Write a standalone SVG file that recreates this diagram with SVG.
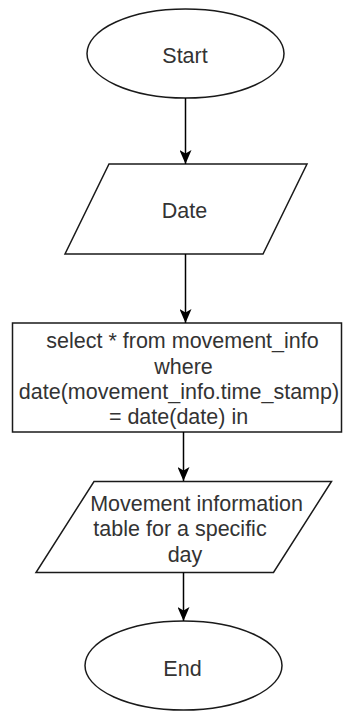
<svg xmlns="http://www.w3.org/2000/svg" width="343" height="712" viewBox="0 0 343 712">
<style>
.shape{fill:#fff;stroke:#1a1a1a;stroke-width:1.5}
.lbl{font-family:"Liberation Sans",Arial,sans-serif;font-size:21.5px;fill:#333;text-anchor:middle}
.edge{fill:none;stroke:#000;stroke-width:1.5}
</style>
<defs>
<marker id="arr" viewBox="0 0 14 12" refX="14" refY="6" markerWidth="14" markerHeight="12" markerUnits="userSpaceOnUse" orient="auto">
<path d="M0,0 L14,6 L0,12 L3.5,6 Z" fill="#000"/>
</marker>
</defs>
<rect width="343" height="712" fill="#fff"/>
<g id="start">
<ellipse class="shape" cx="185.5" cy="53.5" rx="98.5" ry="44.5"/>
<text class="lbl" x="185" y="62.5">Start</text>
</g>
<g id="date">
<polygon class="shape" points="109,164 307,164 263,254 65,254"/>
<text class="lbl" x="184.5" y="218">Date</text>
</g>
<g id="query">
<rect class="shape" x="12.5" y="323" width="329" height="109"/>
<text class="lbl" x="182.5" y="348">select * from movement_info</text>
<text class="lbl" x="183.5" y="373.5">where</text>
<text class="lbl" x="179" y="398.5">date(movement_info.time_stamp)</text>
<text class="lbl" x="178.5" y="424">= date(date) in</text>
</g>
<g id="result">
<polygon class="shape" points="94,481.5 331.5,481.5 273.5,572.5 36,572.5"/>
<text class="lbl" x="196.5" y="510.5">Movement information</text>
<text class="lbl" x="180" y="536">table for a specific</text>
<text class="lbl" x="185" y="561.5">day</text>
</g>
<g id="end">
<ellipse class="shape" cx="183.5" cy="665.5" rx="98.5" ry="44.5"/>
<text class="lbl" x="182.5" y="676">End</text>
</g>
<g id="connectors">
<line class="edge" x1="185.5" y1="98" x2="185.5" y2="164" marker-end="url(#arr)"/>
<line class="edge" x1="185.5" y1="254" x2="185.5" y2="323" marker-end="url(#arr)"/>
<line class="edge" x1="183.5" y1="432" x2="183.5" y2="481" marker-end="url(#arr)"/>
<line class="edge" x1="183.5" y1="572.5" x2="183.5" y2="621" marker-end="url(#arr)"/>
</g>
</svg>
